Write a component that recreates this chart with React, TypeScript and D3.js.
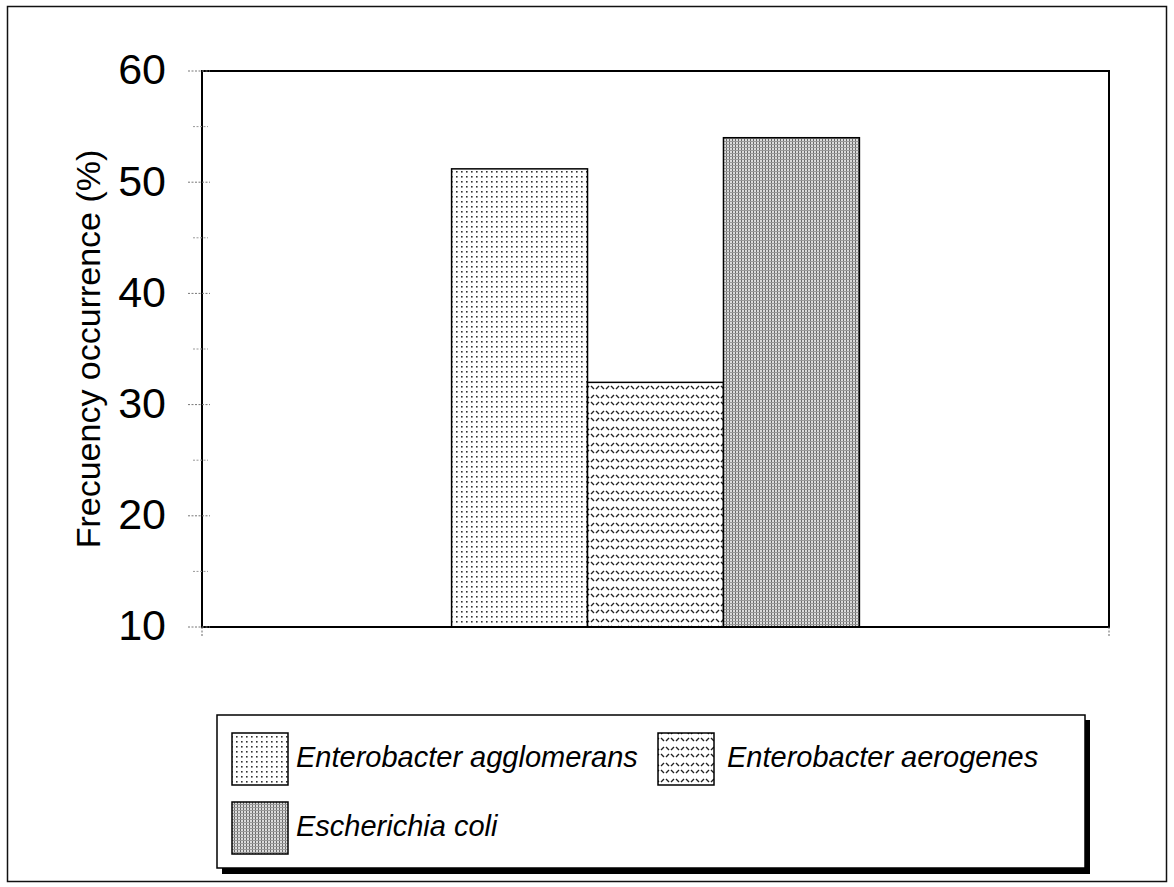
import React from "react";
import * as d3 from "d3";

const categories = ["Enterobacter agglomerans", "Enterobacter aerogenes", "Escherichia coli"];
const values = [51.2, 32, 54];
const patterns = ["pDots", "pDiamond", "pGrid"];
const yTicks = [10, 20, 30, 40, 50, 60];
const yMinor = [15, 25, 35, 45, 55];

const W = 1174, H = 887;
const plot = { left: 202, right: 1109, top: 71, bottom: 627 };

export default function App() {
  const y = d3.scaleLinear().domain([10, 60]).range([plot.bottom, plot.top]);
  const xGroup = d3.scaleBand().domain(["g"]).range([plot.left, plot.right]).paddingInner(0).paddingOuter(0.612);
  const x = d3.scaleBand().domain(categories).range([xGroup("g")!, xGroup("g")! + xGroup.bandwidth()]);
  const font = "Arial, 'Liberation Sans', sans-serif";
  const legendItems = [
    { i: 0, sx: 232, sy: 733, tx: 296 },
    { i: 1, sx: 658, sy: 733, tx: 727 },
    { i: 2, sx: 232, sy: 802, tx: 296 },
  ];
  return (
    <svg width={W} height={H} style={{ position: "absolute", left: 0, top: 0, background: "#fff" }}>
      <defs>
        <pattern id="pDots" width="5" height="5" patternUnits="userSpaceOnUse">
          <rect width="5" height="5" fill="#fff" />
          <rect x="1" y="1" width="1.6" height="1.6" fill="#333" />
        </pattern>
        <pattern id="pDiamond" width="10" height="16" patternUnits="userSpaceOnUse">
          <rect width="10" height="16" fill="#fff" />
          <path d="M1,2 L4,5 M6,5 L9,2 M1,14 L4,11 M6,11 L9,14" stroke="#222" strokeWidth="1.4" />
        </pattern>
        <pattern id="pGrid" width="3" height="3" patternUnits="userSpaceOnUse">
          <rect width="3" height="3" fill="#dcdcdc" />
          <rect x="0" y="0" width="1" height="3" fill="#6a6a6a" />
          <rect x="0" y="0" width="3" height="1" fill="#999" />
        </pattern>
      </defs>
      {/* outer border */}
      <rect x={7.5} y={6.5} width={1159} height={875} fill="none" stroke="#111" strokeWidth={1.5} />

      {/* bars */}
      {categories.map((c, i) => (
        <rect key={c} x={x(c)!} y={y(values[i])} width={x.bandwidth()} height={plot.bottom - y(values[i])}
          fill={`url(#${patterns[i]})`} stroke="#000" strokeWidth={1.5} />
      ))}

      {/* plot frame */}
      <rect x={plot.left} y={plot.top} width={plot.right - plot.left} height={plot.bottom - plot.top}
        fill="none" stroke="#000" strokeWidth={2} />

      {/* ticks */}
      {yTicks.map(t => (
        <g key={t}>
          <line x1={plot.left - 14} x2={plot.left + 8} y1={y(t)} y2={y(t)} stroke="#777" strokeWidth={1} strokeDasharray="2,1.5" />
          <text x={166} y={y(t) - 2} dy="0.36em" textAnchor="end" fontFamily={font} fontSize={43} fill="#000">{t}</text>
        </g>
      ))}
      {yMinor.map(t => (
        <line key={t} x1={plot.left - 9} x2={plot.left + 6} y1={y(t)} y2={y(t)} stroke="#999" strokeWidth={1} strokeDasharray="2,1.5" />
      ))}
      <line x1={plot.right} x2={plot.right} y1={plot.bottom} y2={plot.bottom + 10} stroke="#666" strokeDasharray="2,1.5" />
      <line x1={plot.left} x2={plot.left} y1={plot.bottom} y2={plot.bottom + 10} stroke="#666" strokeDasharray="2,1.5" />

      {/* y title */}
      <text transform={`translate(100,${(plot.top + plot.bottom) / 2}) rotate(-90)`} textAnchor="middle"
        fontFamily={font} fontSize={34} fill="#000">Frecuency occurrence (%)</text>

      {/* legend */}
      <rect x={222} y={720} width={868} height={154} fill="#000" />
      <rect x={217} y={715} width={868} height={153} fill="#fff" stroke="#000" strokeWidth={1.5} />
      {legendItems.map(({ i, sx, sy, tx }) => (
        <g key={i}>
          <rect x={sx} y={sy} width={56} height={52} fill={`url(#${patterns[i]})`} stroke="#000" strokeWidth={1.5} />
          <text x={tx} y={sy + 34} fontFamily={font} fontStyle="italic" fontSize={29} fill="#000">{categories[i]}</text>
        </g>
      ))}
    </svg>
  );
}
